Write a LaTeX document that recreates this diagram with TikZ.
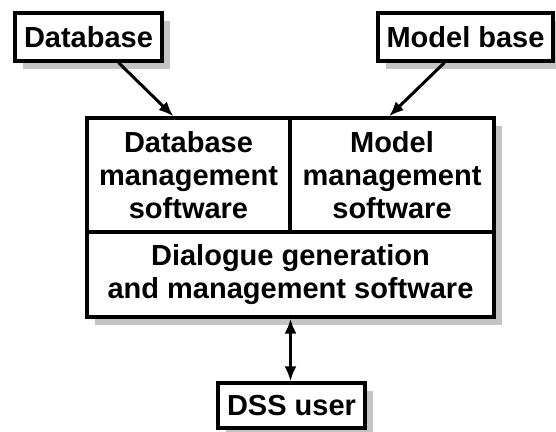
\documentclass[tikz,border=0pt]{standalone}
\usepackage{fontspec}
\setmainfont{Liberation Sans}
\usetikzlibrary{arrows.meta, shadows}

\begin{document}
\begin{tikzpicture}[x=1pt, y=-1pt,
	box/.style={draw=black, line width=3.2pt, fill=white, inner sep=0pt, align=center,
		font=\fontsize{29}{33}\selectfont\bfseries,
		drop shadow={shadow xshift=8pt, shadow yshift=-8pt, fill=shadowgray, opacity=1}},
	arr/.style={line width=3pt, -{Latex[length=15pt, width=12pt]}},
	biarr/.style={line width=3pt, {Latex[length=15pt, width=12pt]}-{Latex[length=15pt, width=12pt]}}]
	\definecolor{shadowgray}{RGB}{196,196,196}
	\useasboundingbox[fill=white] (0,0) rectangle (556,431);
	\node[box, minimum width=147pt, minimum height=48pt] (db) at (88.5,37) {Database};
	\node[box, minimum width=175pt, minimum height=48pt] (mb) at (465.5,37) {Model base};
	\node[box, minimum width=203pt, minimum height=114pt] (dbms) at (188.5,175) {Database\\management\\software};
	\node[box, minimum width=204pt, minimum height=114pt] (mms) at (392,175) {Model\\management\\software};
	\node[box, minimum width=407pt, minimum height=85pt] (dgms) at (290.5,274.5) {Dialogue generation\\and management software};
	\node[box, minimum width=147pt, minimum height=45pt] (user) at (291.5,405.5) {DSS user};
	\draw[arr] ([xshift=30pt]db.south) -- ([xshift=-15pt]dbms.north);
	\draw[arr] ([xshift=-21pt]mb.south) -- ([xshift=-3pt]mms.north);
	\draw[biarr] (dgms.south) -- (dgms.south |- user.north);
\end{tikzpicture}
\end{document}
